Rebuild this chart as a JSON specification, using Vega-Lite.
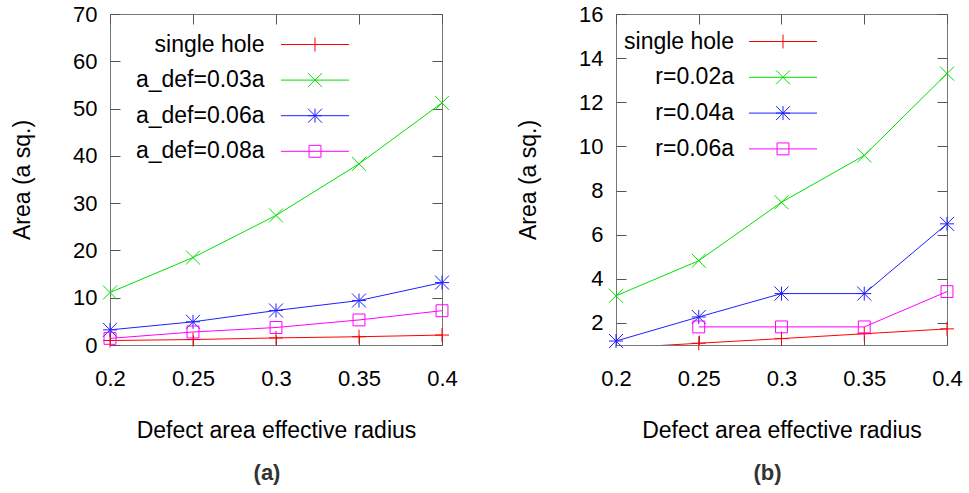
{
  "$schema": "https://vega.github.io/schema/vega-lite/v6.json",
  "padding": {"left": 11, "top": 2, "right": 5, "bottom": 5},
  "background": "white",
  "config": {
    "font": "Liberation Sans",
    "view": {"stroke": "#777", "strokeWidth": 1},
    "axis": {
      "grid": false, "domain": false, "tickSize": -10, "tickColor": "#555", "tickWidth": 1, "labelFlush": false,
      "labelFontSize": 22, "labelColor": "#000", "titleFontSize": 23, "titleFontWeight": "normal", "titleColor": "#000"
    },
    "axisX": {"labelPadding": 33, "titlePadding": 30},
    "axisY": {"labelPadding": 23, "titlePadding": 38},
    "legend": {"padding": 0, "labelFontSize": 23, "labelColor": "#000", "labelLimit": 400}
  },
  "datasets": {
    "a": [
      {"series": "single hole", "r": 0.2, "area": 0.95},
      {"series": "single hole", "r": 0.25, "area": 1.15},
      {"series": "single hole", "r": 0.3, "area": 1.5},
      {"series": "single hole", "r": 0.35, "area": 1.75},
      {"series": "single hole", "r": 0.4, "area": 2.1},
      {"series": "a_def=0.03a", "r": 0.2, "area": 11.1},
      {"series": "a_def=0.03a", "r": 0.25, "area": 18.5},
      {"series": "a_def=0.03a", "r": 0.3, "area": 27.4},
      {"series": "a_def=0.03a", "r": 0.35, "area": 38.3},
      {"series": "a_def=0.03a", "r": 0.4, "area": 51.2},
      {"series": "a_def=0.06a", "r": 0.2, "area": 3.2},
      {"series": "a_def=0.06a", "r": 0.25, "area": 4.9},
      {"series": "a_def=0.06a", "r": 0.3, "area": 7.3},
      {"series": "a_def=0.06a", "r": 0.35, "area": 9.4},
      {"series": "a_def=0.06a", "r": 0.4, "area": 13.2},
      {"series": "a_def=0.08a", "r": 0.2, "area": 1.4},
      {"series": "a_def=0.08a", "r": 0.25, "area": 2.75},
      {"series": "a_def=0.08a", "r": 0.3, "area": 3.7},
      {"series": "a_def=0.08a", "r": 0.35, "area": 5.3},
      {"series": "a_def=0.08a", "r": 0.4, "area": 7.25}
    ],
    "b": [
      {"series": "single hole", "r": 0.2, "area": 0.86},
      {"series": "single hole", "r": 0.25, "area": 1.08},
      {"series": "single hole", "r": 0.3, "area": 1.29},
      {"series": "single hole", "r": 0.35, "area": 1.51},
      {"series": "single hole", "r": 0.4, "area": 1.73},
      {"series": "r=0.02a", "r": 0.2, "area": 3.23},
      {"series": "r=0.02a", "r": 0.25, "area": 4.82},
      {"series": "r=0.02a", "r": 0.3, "area": 7.47},
      {"series": "r=0.02a", "r": 0.35, "area": 9.59},
      {"series": "r=0.02a", "r": 0.4, "area": 13.3},
      {"series": "r=0.04a", "r": 0.2, "area": 1.18},
      {"series": "r=0.04a", "r": 0.25, "area": 2.27},
      {"series": "r=0.04a", "r": 0.3, "area": 3.33},
      {"series": "r=0.04a", "r": 0.35, "area": 3.33},
      {"series": "r=0.04a", "r": 0.4, "area": 6.49},
      {"series": "r=0.06a", "r": 0.25, "area": 1.82},
      {"series": "r=0.06a", "r": 0.3, "area": 1.82},
      {"series": "r=0.06a", "r": 0.35, "area": 1.82},
      {"series": "r=0.06a", "r": 0.4, "area": 3.42}
    ]
  },
  "spacing": 59,
  "resolve": {
    "scale": {"x": "independent", "y": "independent", "color": "independent", "shape": "independent", "stroke": "independent"},
    "legend": {"color": "independent", "shape": "independent", "stroke": "independent"}
  },
  "hconcat": [
    {
      "width": 332, "height": 331,
      "data": {"name": "a"},
      "title": {"text": "(a)", "orient": "bottom", "fontWeight": "bold", "fontSize": 22, "color": "#333", "offset": 21, "frame": "group", "dx": -9},
      "resolve": {"axis": {"x": "independent", "y": "independent"}},
      "layer": [
        {
          "mark": {"type": "line", "clip": true, "strokeWidth": 1},
          "encoding": {
            "x": {"field": "r", "type": "quantitative", "scale": {"domain": [0.2, 0.4]},
                  "axis": {"orient": "bottom", "values": [0.2, 0.25, 0.3, 0.35, 0.4], "format": "~g", "title": "Defect area effective radius"}},
            "y": {"field": "area", "type": "quantitative", "scale": {"domain": [0, 70]},
                  "axis": {"orient": "left", "values": [0, 10, 20, 30, 40, 50, 60, 70], "title": "Area (a sq.)"}},
            "stroke": {"field": "series", "type": "nominal", "sort": ["single hole", "a_def=0.03a", "a_def=0.06a", "a_def=0.08a"],
                      "scale": {"range": ["#ff0000", "#00e000", "#2020ff", "#ff00ff"]},
                      "legend": {"orient": "none", "legendX": 193.5, "legendY": 19, "title": null, "symbolType": "M-4.86,0L4.86,0", "symbolSize": 196, "symbolStrokeWidth": 1, "rowPadding": 11.6, "labelAlign": "right", "labelOffset": -62, "labelOpacity": 0}}
          }
        },
        {
          "transform": [{"filter": "datum.area >= 0"}],
          "mark": {"type": "point", "filled": false, "strokeWidth": 1, "size": 196, "opacity": 1},
          "encoding": {
            "x": {"field": "r", "type": "quantitative", "scale": {"domain": [0.2, 0.4]},
                  "axis": {"orient": "top", "values": [0.2, 0.25, 0.3, 0.35, 0.4], "labels": false, "title": null}},
            "y": {"field": "area", "type": "quantitative", "scale": {"domain": [0, 70]},
                  "axis": {"orient": "right", "values": [0, 10, 20, 30, 40, 50, 60, 70], "labels": false, "title": null}},
            "color": {"field": "series", "type": "nominal",
                      "scale": {"domain": ["single hole", "a_def=0.03a", "a_def=0.06a", "a_def=0.08a"], "range": ["#ff0000", "#00e000", "#2020ff", "#ff00ff"]},
                      "legend": {"orient": "none", "legendX": 193.5, "legendY": 19, "title": null, "labelAlign": "right", "labelOffset": -62, "symbolSize": 196, "symbolStrokeWidth": 1, "rowPadding": 11.6}},
            "shape": {"field": "series", "type": "nominal",
                      "scale": {"domain": ["single hole", "a_def=0.03a", "a_def=0.06a", "a_def=0.08a"],
                                "range": ["M-1,0L1,0M0,-1L0,1", "M-1,-1L1,1M-1,1L1,-1", "M-1,0L1,0M0,-1L0,1M-1,-1L1,1M-1,1L1,-1", "M-0.85,-0.85L0.85,-0.85L0.85,0.85L-0.85,0.85Z"]},
                      "legend": {"orient": "none", "legendX": 193.5, "legendY": 19, "title": null, "labelAlign": "right", "labelOffset": -62, "symbolSize": 196, "symbolStrokeWidth": 1, "rowPadding": 11.6}}
          }
        }
      ]
    },
    {
      "width": 331, "height": 331,
      "data": {"name": "b"},
      "title": {"text": "(b)", "orient": "bottom", "fontWeight": "bold", "fontSize": 22, "color": "#333", "offset": 21, "frame": "group", "dx": -14},
      "resolve": {"axis": {"x": "independent", "y": "independent"}},
      "layer": [
        {
          "mark": {"type": "line", "clip": true, "strokeWidth": 1},
          "encoding": {
            "x": {"field": "r", "type": "quantitative", "scale": {"domain": [0.2, 0.4]},
                  "axis": {"orient": "bottom", "values": [0.2, 0.25, 0.3, 0.35, 0.4], "format": "~g", "title": "Defect area effective radius"}},
            "y": {"field": "area", "type": "quantitative", "scale": {"domain": [1, 16], "zero": false},
                  "axis": {"orient": "left", "values": [2, 4, 6, 8, 10, 12, 14, 16], "title": "Area (a sq.)"}},
            "stroke": {"field": "series", "type": "nominal", "sort": ["single hole", "r=0.02a", "r=0.04a", "r=0.06a"],
                      "scale": {"range": ["#ff0000", "#00e000", "#2020ff", "#ff00ff"]},
                      "legend": {"orient": "none", "legendX": 155.5, "legendY": 16, "title": null, "symbolType": "M-4.86,0L4.86,0", "symbolSize": 196, "symbolStrokeWidth": 1, "rowPadding": 11.8, "labelAlign": "right", "labelOffset": -60.5, "labelOpacity": 0}}
          }
        },
        {
          "transform": [{"filter": "datum.area >= 1"}],
          "mark": {"type": "point", "filled": false, "strokeWidth": 1, "size": 196, "opacity": 1},
          "encoding": {
            "x": {"field": "r", "type": "quantitative", "scale": {"domain": [0.2, 0.4]},
                  "axis": {"orient": "top", "values": [0.2, 0.25, 0.3, 0.35, 0.4], "labels": false, "title": null}},
            "y": {"field": "area", "type": "quantitative", "scale": {"domain": [1, 16], "zero": false},
                  "axis": {"orient": "right", "values": [2, 4, 6, 8, 10, 12, 14, 16], "labels": false, "title": null}},
            "color": {"field": "series", "type": "nominal",
                      "scale": {"domain": ["single hole", "r=0.02a", "r=0.04a", "r=0.06a"], "range": ["#ff0000", "#00e000", "#2020ff", "#ff00ff"]},
                      "legend": {"orient": "none", "legendX": 155.5, "legendY": 16, "title": null, "labelAlign": "right", "labelOffset": -60.5, "symbolSize": 196, "symbolStrokeWidth": 1, "rowPadding": 11.8}},
            "shape": {"field": "series", "type": "nominal",
                      "scale": {"domain": ["single hole", "r=0.02a", "r=0.04a", "r=0.06a"],
                                "range": ["M-1,0L1,0M0,-1L0,1", "M-1,-1L1,1M-1,1L1,-1", "M-1,0L1,0M0,-1L0,1M-1,-1L1,1M-1,1L1,-1", "M-0.85,-0.85L0.85,-0.85L0.85,0.85L-0.85,0.85Z"]},
                      "legend": {"orient": "none", "legendX": 155.5, "legendY": 16, "title": null, "labelAlign": "right", "labelOffset": -60.5, "symbolSize": 196, "symbolStrokeWidth": 1, "rowPadding": 11.8}}
          }
        }
      ]
    }
  ]
}
